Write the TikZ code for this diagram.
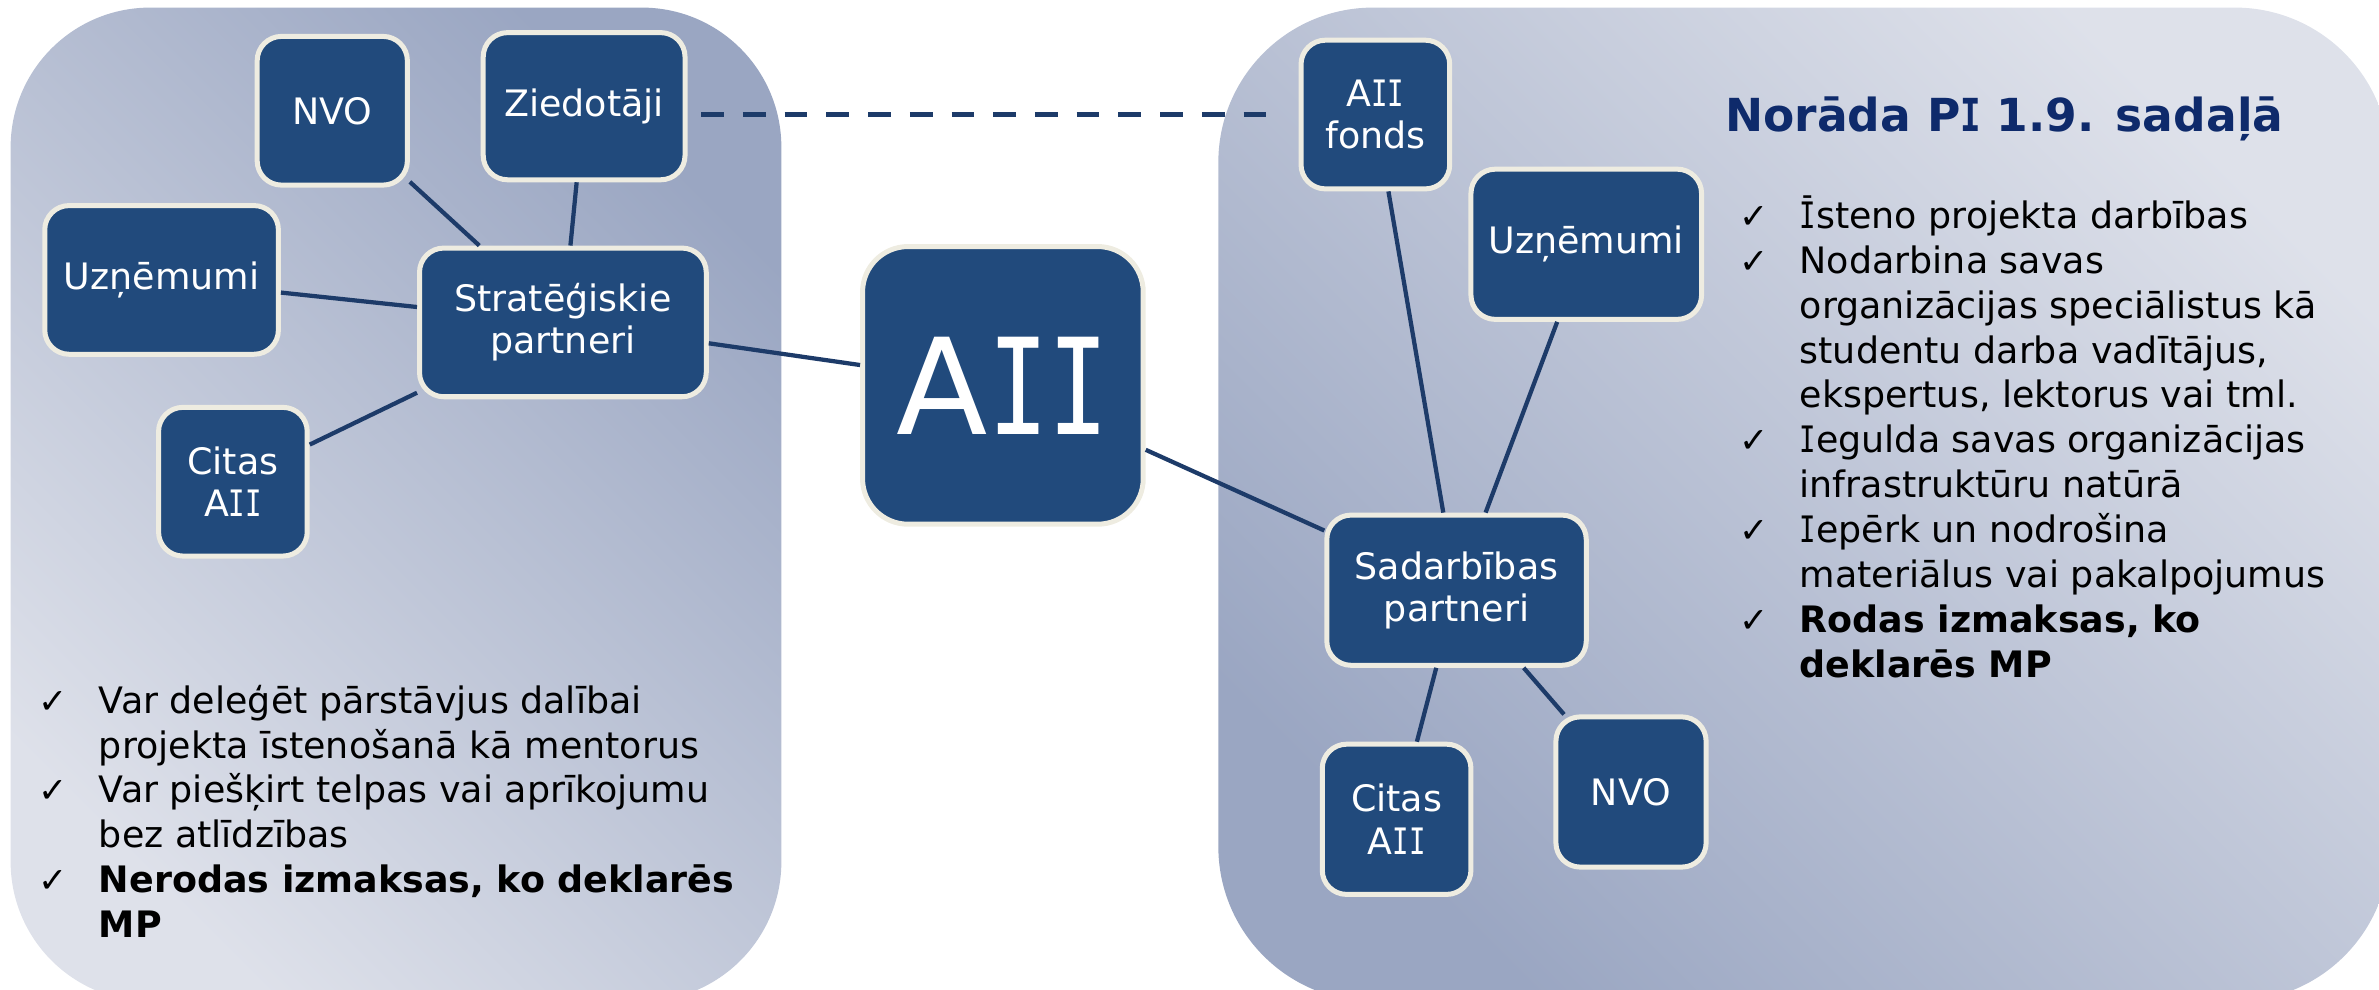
\documentclass[tikz,border=0pt]{standalone}
\usepackage{fontspec}
\setmainfont{DejaVu Sans}
\newfontfamily\chkfont{DejaVu Sans}
\newfontfamily\serifIfont{DejaVu Sans Mono}[FakeStretch=0.75]
\newcommand\capI{{\serifIfont I}}
\newcommand\capIbar{{\serifIfont Ī}}
\definecolor{boxblue}{HTML}{214A7C}
\definecolor{cream}{HTML}{EEECE1}
\definecolor{linecol}{HTML}{1D3B69}
\definecolor{titlecol}{HTML}{0E2A6B}
\definecolor{panellight}{HTML}{DEE1EA}
\definecolor{paneldark}{HTML}{9AA6C2}
\newcommand\chkitem{\par\hangindent=40pt\hangafter=1\noindent\makebox[40pt][l]{\chkfont\fontsize{23}{23}\selectfont ✓}}
\newenvironment{chklist}{\begin{minipage}[t]{470pt}\parindent=0pt\fontsize{24}{29.6}\selectfont}{\par\end{minipage}}
\tikzset{
  box/.style={draw=cream, fill=boxblue, line width=3.3pt, rounded corners=16pt,
    text=white, align=center, inner sep=0pt, font=\fontsize{24}{28}\selectfont},
  conn/.style={draw=linecol, line width=2.8pt},
  dashline/.style={draw=linecol, line width=3.7pt, dash pattern=on 15pt off 12.5pt},
  listtext/.style={anchor=base west, inner sep=0pt, text=black},
}
\begin{document}
\begin{tikzpicture}[x=1pt,y=-1pt]
\useasboundingbox (0,0) rectangle (1568,652);
% panels
\shade[rounded corners=92pt, top color=paneldark, bottom color=panellight, shading angle=-45]
  (7,5) rectangle (515,660);
\shade[rounded corners=102pt, top color=panellight, bottom color=paneldark, shading angle=-45]
  (803,5) rectangle (1575,660);
% nodes
\node[box, minimum width=99pt, minimum height=98pt] (nvoL) at (219,73) {NVO};
\node[box, minimum width=133pt, minimum height=97pt] (zied) at (385,70) {Ziedotāji};
\node[box, minimum width=154pt, minimum height=98pt] (uznL) at (106.5,184.5) {Uzņēmumi};
\node[box, minimum width=189pt, minimum height=98pt] (strat) at (371,212.5) {Stratēģiskie\\partneri};
\node[box, minimum width=98pt, minimum height=98pt] (citL) at (153.5,317.5) {Citas\\A\capI\capI};
\node[box, minimum width=185pt, minimum height=183pt, rounded corners=30pt,
  font=\fontsize{88}{90}\selectfont] (aii) at (661,254) {A\capI\capI};
\node[box, minimum width=98pt, minimum height=98pt] (fonds) at (906.5,75.5) {A\capI\capI\\fonds};
\node[box, minimum width=152pt, minimum height=99pt] (uznR) at (1045.5,161) {Uzņēmumi};
\node[box, minimum width=171pt, minimum height=99pt] (sad) at (960,389) {Sadarbības\\partneri};
\node[box, minimum width=98pt, minimum height=99pt] (citR) at (920.5,540) {Citas\\A\capI\capI};
\node[box, minimum width=99pt, minimum height=99pt] (nvoR) at (1075,522) {NVO};
% connectors
\draw[conn] (nvoL) -- (strat);
\draw[conn] (zied) -- (strat);
\draw[conn] (uznL) -- (strat);
\draw[conn] (citL) -- (strat);
\draw[conn] (strat) -- (aii);
\draw[conn] (aii) -- (sad);
\draw[conn] (fonds) -- (sad);
\draw[conn] (uznR) -- (sad);
\draw[conn] (sad) -- (citR);
\draw[conn] (sad) -- (nvoR);
\draw[dashline, shorten <=9pt, shorten >=20pt] (zied.east |- fonds.west) -- (fonds.west);
% texts
\node[anchor=base west, inner sep=0pt, text=titlecol, font=\fontsize{30}{36}\selectfont\bfseries]
  (title) at (1137,87) {Norāda P\capI{} 1.9. sadaļā};
\node[listtext] (listR) at (1146,150.5) {\begin{chklist}
\chkitem \capIbar steno projekta darbības
\chkitem Nodarbina savas\hfil\break organizācijas speciālistus kā\hfil\break studentu darba vadītājus,\hfil\break ekspertus, lektorus vai tml.
\chkitem \capI egulda savas organizācijas\hfil\break infrastruktūru natūrā
\chkitem \capI epērk un nodrošina\hfil\break materiālus vai pakalpojumus
\chkitem {\bfseries Rodas izmaksas, ko\hfil\break deklarēs MP}
\end{chklist}};
\node[listtext] (listL) at (25,470) {\begin{chklist}
\chkitem Var deleģēt pārstāvjus dalībai\hfil\break projekta īstenošanā kā mentorus
\chkitem Var piešķirt telpas vai aprīkojumu\hfil\break bez atlīdzības
\chkitem {\bfseries Nerodas izmaksas, ko deklarēs\hfil\break MP}
\end{chklist}};
\end{tikzpicture}
\end{document}
